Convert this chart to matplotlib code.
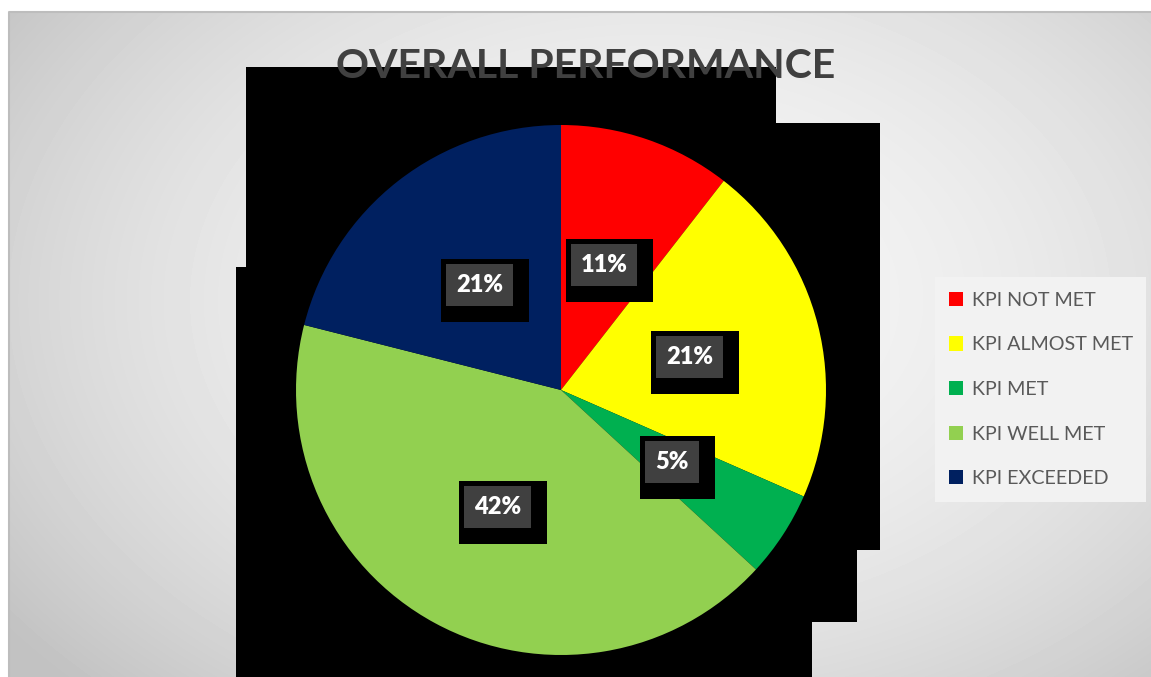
import numpy as np
import matplotlib
matplotlib.use('Agg')
import matplotlib.pyplot as plt
from matplotlib.patches import Polygon, Rectangle, Patch

labels = ['KPI NOT MET', 'KPI ALMOST MET', 'KPI MET', 'KPI WELL MET', 'KPI EXCEEDED']
counts = [2, 4, 1, 8, 4]
colors = ['#ff0000', '#ffff00', '#00b050', '#92d050', '#002060']
title = 'OVERALL PERFORMANCE'

W, H = 1151, 677
plt.rcParams['font.family'] = ['Lato', 'DejaVu Sans']
fig = plt.figure(figsize=(W / 100, H / 100), dpi=100, facecolor='white')

# background panel, pixel coordinates (y down)
bg = fig.add_axes([0, 0, 1, 1])
bg.set_xlim(0, W)
bg.set_ylim(H, 0)
bg.axis('off')
yy, xx = np.mgrid[12:H, 9:W]
d = np.sqrt(((xx - 650) / 800.0) ** 2 + ((yy - 300) / 550.0) ** 2)
shade = 245 - 51 * np.clip(d, 0, 1) ** 2
bg.imshow(shade, cmap='gray', vmin=0, vmax=255, extent=(9, W, H, 12),
          aspect='auto', interpolation='bilinear')
bg.plot([9, 9, W], [H, 12, 12], color='#bdbdbd', lw=1.5)

# black shadow block behind the pie
shadow = [(246, 67), (776, 67), (776, 123), (880, 123), (880, 550), (857, 550),
          (857, 622), (812, 622), (812, H), (236, H), (236, 267), (246, 267)]
bg.add_patch(Polygon(shadow, closed=True, fc='black', ec='none'))

bg.text(586, 78, title, ha='center', va='baseline', fontsize=29.5,
        fontweight='bold', color='#404040', zorder=5)

# legend panel
bg.add_patch(Rectangle((935, 277), 211, 225, fc='#f2f2f2', ec='none'))

# pie
ax = fig.add_axes([296 / W, 1 - 655 / H, 530 / W, 530 / H])
wedges, texts, autotexts = ax.pie(
    counts, colors=colors, startangle=90, counterclock=False,
    autopct=lambda p: f'{p:.0f}%', pctdistance=0.5,
    textprops=dict(color='white', fontsize=17, fontweight='heavy'),
    wedgeprops=dict(linewidth=0))
ax.set_xlim(-1, 1)
ax.set_ylim(-1, 1)
ax.axis('off')

fig.canvas.draw()
inv = ax.transData.inverted()
for t in autotexts:
    bb = t.get_window_extent()
    cy = (bb.y0 + bb.y1) / 2
    gx0, gx1 = bb.x0 - 10, bb.x1 + 10
    gy0, gy1 = cy - 21, cy + 21
    for (x0, y0, x1, y1, c, z) in [(gx0 - 5, gy0 - 16, gx1 + 16, gy1 + 5, 'black', 2),
                                   (gx0, gy0, gx1, gy1, '#404040', 2.1)]:
        (a0, b0), (a1, b1) = inv.transform([(x0, y0), (x1, y1)])
        ax.add_patch(Rectangle((a0, b0), a1 - a0, b1 - b0, fc=c, ec='none', zorder=z))
    t.set_zorder(3)

handles = [Patch(fc=c, ec='none', label=l) for c, l in zip(colors, labels)]
fig.legend(handles=handles, loc='upper left', bbox_to_anchor=(935 / W, 1 - 278 / H),
           frameon=False, fontsize=14.2, labelcolor='#595959', handlelength=0.72,
           handleheight=0.72, handletextpad=0.45, labelspacing=1.4,
           borderpad=0.7, borderaxespad=0)

fig.savefig('out.png', dpi=100, facecolor='white')
